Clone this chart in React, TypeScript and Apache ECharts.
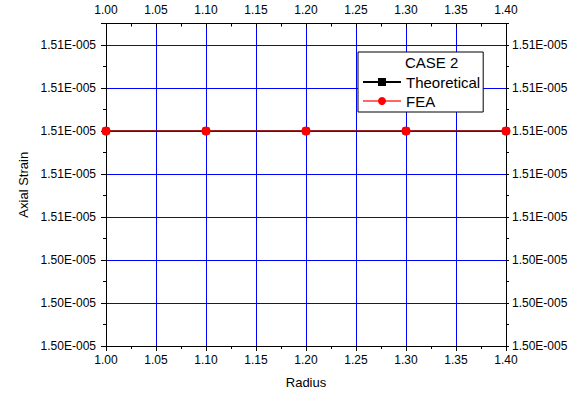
import React, { useEffect, useRef } from "react";
import * as echarts from "echarts";

const radius = [1.0, 1.1, 1.2, 1.3, 1.4];
const theoretical = [1.51e-5, 1.51e-5, 1.51e-5, 1.51e-5, 1.51e-5];
const fea = [1.51e-5, 1.51e-5, 1.51e-5, 1.51e-5, 1.51e-5];
const legendTitle = "CASE 2";
const xName = "Radius";
const yName = "Axial Strain";

const FONT = "Liberation Sans, Arial, sans-serif";

function fmtY(v: number): string {
  if (v > 1.5145e-5) return "";
  const s = v.toExponential(2);
  const [m, e] = s.split("e");
  const n = parseInt(e, 10);
  const sign = n < 0 ? "-" : "+";
  return m + "E" + sign + String(Math.abs(n)).padStart(3, "0");
}

export default function App() {
  const ref = useRef<HTMLDivElement>(null);
  useEffect(() => {
    if (!ref.current) return;
    const chart = echarts.init(ref.current, null, { renderer: "svg" });
    const yCommon = {
      type: "value" as const,
      min: 1.5e-5,
      max: 1.515e-5,
      interval: 2e-8,
      axisLine: { show: true, lineStyle: { color: "#000", width: 1 } },
      axisLabel: { color: "#000", fontSize: 12, fontFamily: FONT, formatter: fmtY },
      minorTick: { show: true, splitNumber: 2, length: 3, lineStyle: { color: "#000" } },
    };
    const xCommon = {
      type: "value" as const,
      min: 1.0,
      max: 1.4,
      interval: 0.05,
      axisLine: { show: true, onZero: false, lineStyle: { color: "#000", width: 1 } },
      axisLabel: { color: "#000", fontSize: 12, fontFamily: FONT, formatter: (v: number) => v.toFixed(2) },
      minorTick: { show: true, splitNumber: 2, length: 3, lineStyle: { color: "#000" } },
    };
    chart.setOption({
      animation: false,
      backgroundColor: "#fff",
      grid: { left: 106, right: 72, top: 23.5, bottom: 50, containLabel: false },
      xAxis: [
        {
          ...xCommon,
          position: "bottom",
          name: xName,
          nameLocation: "middle",
          nameGap: 30,
          nameTextStyle: { color: "#000", fontSize: 13, fontFamily: FONT },
          axisTick: { show: true, length: 5, inside: false, lineStyle: { color: "#000" } },
          axisLabel: { ...xCommon.axisLabel, margin: 8 },
          splitLine: { show: true, lineStyle: { color: "#0000ff", width: 1 } },
        },
        {
          ...xCommon,
          position: "top",
          axisTick: { show: true, length: 4, inside: true, lineStyle: { color: "#000" } },
          axisLabel: { ...xCommon.axisLabel, margin: 8 },
          splitLine: { show: false },
        },
      ],
      yAxis: [
        {
          ...yCommon,
          position: "left",
          name: yName,
          nameLocation: "middle",
          nameGap: 76,
          nameTextStyle: { color: "#000", fontSize: 13, fontFamily: FONT },
          axisTick: { show: true, length: 5, inside: false, lineStyle: { color: "#000" } },
          axisLabel: { ...yCommon.axisLabel, margin: 10 },
          splitLine: { show: true, lineStyle: { color: "#0000ff", width: 1 } },
        },
        {
          ...yCommon,
          position: "right",
          axisTick: { show: true, length: 3, inside: false, lineStyle: { color: "#000" } },
          axisLabel: { ...yCommon.axisLabel, margin: 6 },
          splitLine: { show: false },
        },
      ],
      legend: {
        orient: "vertical",
        left: 358,
        top: 52,
        padding: [22, 3, 3, 4],
        itemWidth: 38,
        itemHeight: 10,
        itemGap: 3,
        borderColor: "#000",
        borderWidth: 1,
        backgroundColor: "#fff",
        textStyle: { color: "#000", fontSize: 15, fontFamily: FONT, lineHeight: 16 },
        data: ["Theoretical", "FEA"],
      },
      graphic: [
        {
          type: "text",
          left: 405,
          top: 55,
          style: { text: legendTitle, fill: "#000", fontSize: 15, fontFamily: FONT },
          z: 100,
        },
      ],
      series: [
        {
          name: "Theoretical",
          type: "line",
          xAxisIndex: 0,
          yAxisIndex: 0,
          data: radius.map((x, i) => [x, theoretical[i]]),
          symbol: "rect",
          symbolSize: 7,
          itemStyle: { color: "#000" },
          lineStyle: { color: "#000", width: 1.5 },
          z: 3,
        },
        {
          name: "FEA",
          type: "line",
          xAxisIndex: 0,
          yAxisIndex: 0,
          data: radius.map((x, i) => [x, fea[i]]),
          symbol: "circle",
          symbolSize: 9,
          itemStyle: { color: "#ff0000" },
          lineStyle: { color: "rgba(255,0,0,0.6)", width: 1.5 },
          z: 4,
        },
      ],
    });
    return () => chart.dispose();
  }, []);
  return <div ref={ref} style={{ width: 578, height: 396, position: "absolute", left: 0, top: 0 }} />;
}
